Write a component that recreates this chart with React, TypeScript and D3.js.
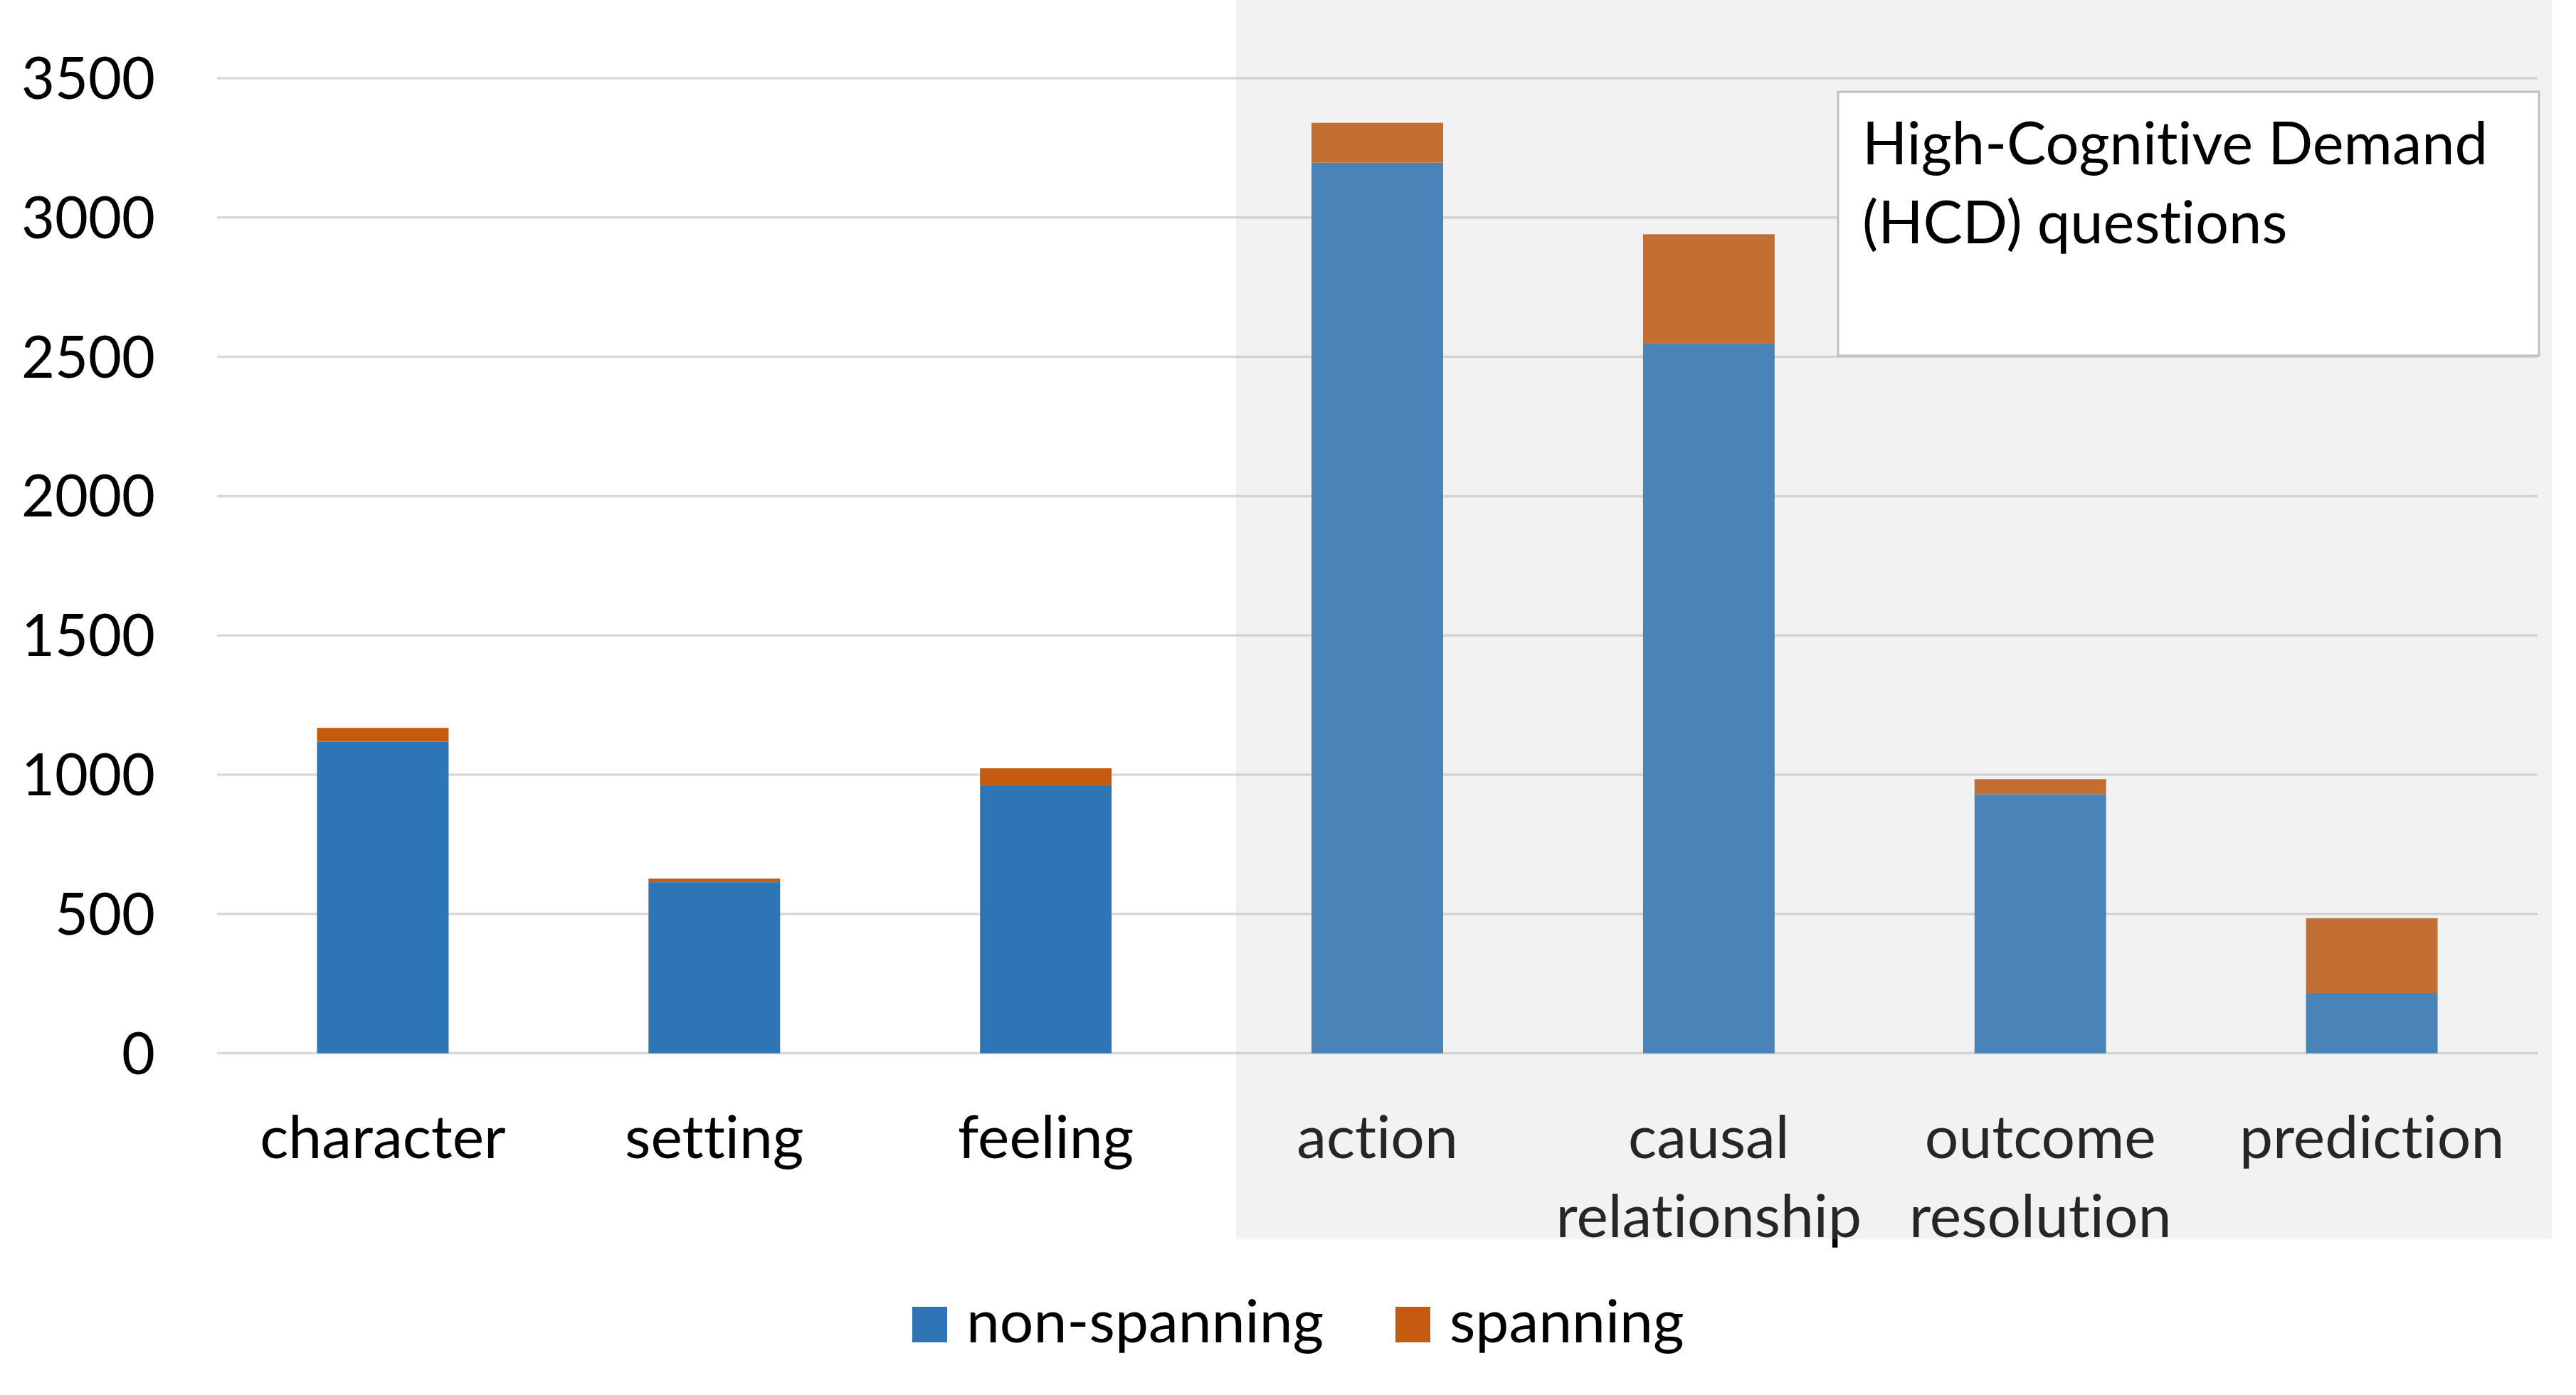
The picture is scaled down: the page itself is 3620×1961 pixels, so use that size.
import React from "react";
import * as d3 from "d3";

const categories: string[][] = [
  ["character"],
  ["setting"],
  ["feeling"],
  ["action"],
  ["causal", "relationship"],
  ["outcome", "resolution"],
  ["prediction"],
];
const nonSpanning = [1119, 614, 962, 3197, 2547, 930, 216];
const spanning = [49, 13, 61, 143, 393, 54, 269];
const yTicks = [0, 500, 1000, 1500, 2000, 2500, 3000, 3500];
const seriesNames = ["non-spanning", "spanning"];
const seriesColors = ["#2E75B6", "#C55A11"];
const boxTitle = ["High-Cognitive Demand", "(HCD) questions"];

const W = 3620;
const H = 1961;
const FONT = "Lato, 'Open Sans', sans-serif";

export default function App() {
  const plotLeft = 305;
  const plotRight = 3566;
  const yScale = d3.scaleLinear().domain([0, 3500]).range([1480.6, 110]);
  const keys = categories.map((c) => c.join(" "));
  const xScale = d3
    .scaleBand<string>()
    .domain(keys)
    .range([plotLeft, plotRight])
    .paddingInner(0.603)
    .paddingOuter(0.3015);

  const rows = keys.map((k, i) => ({ key: k, ns: nonSpanning[i], sp: spanning[i] }));
  const stack = d3.stack<any>().keys(["ns", "sp"]);
  const stacked = stack(rows);

  const hcdStart = xScale(keys[3])! - 0.228 * xScale.step();

  return (
    <svg
      width={W}
      height={H}
      style={{ position: "absolute", left: 0, top: 0, background: "#fff", fontVariantLigatures: "none" }}
      fontFamily={FONT}
    >
      <rect x={0} y={0} width={W} height={H} fill="#fff" />
      {/* gridlines */}
      {yTicks.map((t) => (
        <line
          key={t}
          x1={plotLeft}
          x2={plotRight}
          y1={yScale(t)}
          y2={yScale(t)}
          stroke="#D9D9D9"
          strokeWidth={3.5}
        />
      ))}
      {/* y tick labels */}
      {yTicks.map((t) => (
        <text
          key={"l" + t}
          x={218}
          y={yScale(t) + 29}
          textAnchor="end"
          fontSize={81}
          fill="#000"
        >
          {t}
        </text>
      ))}
      {/* bars */}
      {stacked.map((layer, si) =>
        layer.map((d, i) => (
          <rect
            key={si + "-" + i}
            x={xScale(keys[i])}
            width={xScale.bandwidth()}
            y={yScale(d[1])}
            height={yScale(d[0]) - yScale(d[1])}
            fill={seriesColors[si]}
          />
        ))
      )}
      {/* x labels */}
      {categories.map((lines, i) => (
        <text
          key={"x" + i}
          x={xScale(keys[i])! + xScale.bandwidth() / 2}
          y={1628}
          textAnchor="middle"
          fontSize={84}
          fill="#000"
        >
          {lines.map((ln, j) => (
            <tspan key={j} x={xScale(keys[i])! + xScale.bandwidth() / 2} dy={j === 0 ? 0 : 111}>
              {ln}
            </tspan>
          ))}
        </text>
      ))}
      {/* HCD overlay */}
      <rect x={hcdStart} y={0} width={3586 - hcdStart} height={1742} fill="#BDBDBD" opacity={0.2} />
      {/* title box */}
      <rect x={2583} y={129} width={985} height={371} fill="#fff" stroke="#BFBFBF" strokeWidth={3} />
      {boxTitle.map((t, i) => (
        <text key={"t" + i} x={2617} y={231 + i * 111} fontSize={83} fill="#000">
          {t}
        </text>
      ))}
      {/* legend */}
      {seriesNames.map((n, i) => {
        const lx = [1282, 1961][i];
        return (
          <g key={n}>
            <rect x={lx} y={1837} width={49} height={50} fill={seriesColors[i]} />
            <text x={lx + 76} y={1887} fontSize={84} fill="#000">
              {n}
            </text>
          </g>
        );
      })}
    </svg>
  );
}
